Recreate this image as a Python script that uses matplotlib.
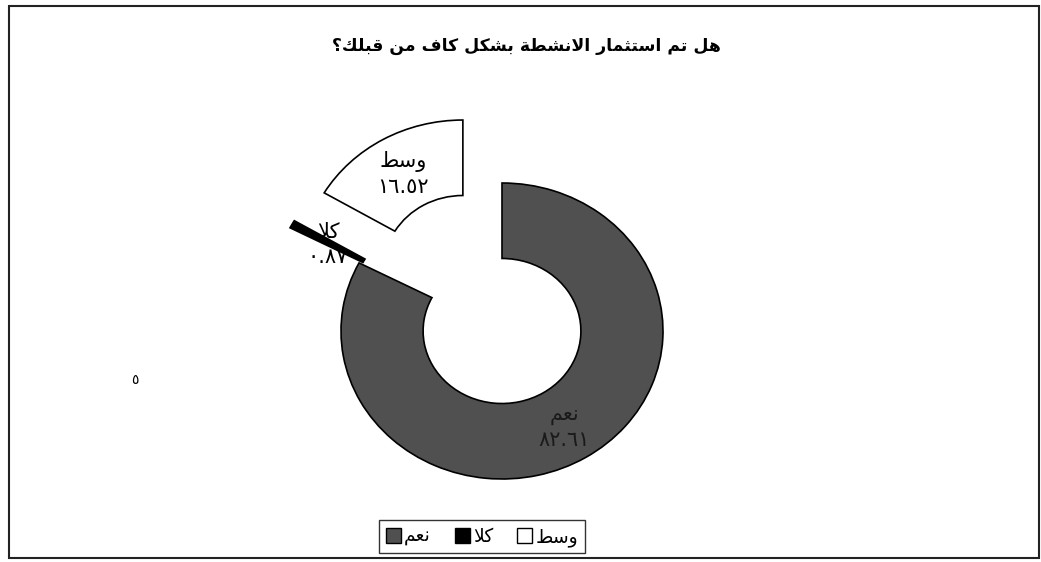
import matplotlib
matplotlib.use("Agg")
import matplotlib.pyplot as plt
from matplotlib.patches import Patch, Rectangle
import numpy as np

# Datos del gráfico
categorias = ["نعم", "كلا", "وسط"]
valores = [82.61, 0.87, 16.52]
colores = ["#505050", "#000000", "#ffffff"]
separacion = [0.0, 0.49, 0.49]
titulo = "هل تم استثمار الانشطة بشكل كاف من قبلك؟"

# Formas de presentación árabes: (aislada, final, inicial, media)
FORMAS = {
    "ا": ("\uFE8D", "\uFE8E", None, None),
    "ب": ("\uFE8F", "\uFE90", "\uFE91", "\uFE92"),
    "ة": ("\uFE93", "\uFE94", None, None),
    "ت": ("\uFE95", "\uFE96", "\uFE97", "\uFE98"),
    "ث": ("\uFE99", "\uFE9A", "\uFE9B", "\uFE9C"),
    "ر": ("\uFEAD", "\uFEAE", None, None),
    "س": ("\uFEB1", "\uFEB2", "\uFEB3", "\uFEB4"),
    "ش": ("\uFEB5", "\uFEB6", "\uFEB7", "\uFEB8"),
    "ط": ("\uFEC1", "\uFEC2", "\uFEC3", "\uFEC4"),
    "ع": ("\uFEC9", "\uFECA", "\uFECB", "\uFECC"),
    "ف": ("\uFED1", "\uFED2", "\uFED3", "\uFED4"),
    "ق": ("\uFED5", "\uFED6", "\uFED7", "\uFED8"),
    "ك": ("\uFED9", "\uFEDA", "\uFEDB", "\uFEDC"),
    "ل": ("\uFEDD", "\uFEDE", "\uFEDF", "\uFEE0"),
    "م": ("\uFEE1", "\uFEE2", "\uFEE3", "\uFEE4"),
    "ن": ("\uFEE5", "\uFEE6", "\uFEE7", "\uFEE8"),
    "ه": ("\uFEE9", "\uFEEA", "\uFEEB", "\uFEEC"),
    "و": ("\uFEED", "\uFEEE", None, None),
}


def une_adelante(c):
    return c in FORMAS and FORMAS[c][2] is not None


def arabe(texto):
    # Une las letras y devuelve el texto en orden visual (derecha a izquierda)
    fichas = []
    i = 0
    while i < len(texto):
        if texto[i] == "ل" and i + 1 < len(texto) and texto[i + 1] == "ا":
            fichas.append("LA")
            i += 2
        else:
            fichas.append(texto[i])
            i += 1
    salida = []
    for k, t in enumerate(fichas):
        prev = fichas[k - 1] if k > 0 else None
        sig = fichas[k + 1] if k + 1 < len(fichas) else None
        p = prev is not None and une_adelante(prev)
        if t == "LA":
            salida.append("\uFEFC" if p else "\uFEFB")
            continue
        if t not in FORMAS:
            salida.append(t)
            continue
        iso, fin, ini, med = FORMAS[t]
        n = ini is not None and sig is not None and (sig == "LA" or sig in FORMAS)
        if p and n:
            salida.append(med)
        elif p:
            salida.append(fin)
        elif n:
            salida.append(ini)
        else:
            salida.append(iso)
    return "".join(reversed(salida))


def cifras(v):
    # Números con dígitos arábigo-índicos
    s = f"{v:.2f}"
    return "".join(chr(0x0660 + int(c)) if c.isdigit() else c for c in s)


plt.rcParams["font.family"] = ["DejaVu Sans"]

fig = plt.figure(figsize=(10.41, 5.62), dpi=100)

# Marco exterior del gráfico
fig.patches.append(Rectangle((9 / 1041, 4 / 562), 1030 / 1041, 552 / 562,
                             transform=fig.transFigure, fill=False,
                             edgecolor="#222222", linewidth=1.5))

# Título
fig.text(0.506, 0.918, arabe(titulo), ha="center", va="center",
         fontsize=12.4, fontweight="bold")

# Ejes para el anillo (ligeramente elíptico como en la imagen)
ax = fig.add_axes([260.5 / 1041, 9 / 562, 483 / 1041, 444 / 562])
cunas, _ = ax.pie(valores, colors=colores, explode=separacion,
                  startangle=90, counterclock=False, radius=1.0,
                  wedgeprops=dict(width=0.51, edgecolor="black", linewidth=1.2))
ax.set_aspect("auto")
ax.set_xlim(-1.5, 1.5)
ax.set_ylim(-1.5, 1.5)
ax.axis("off")

# Etiquetas de cada sector
colores_texto = ["#1a1a1a", "black", "black"]
for cuna, cat, v, ct in zip(cunas, categorias, valores, colores_texto):
    ang = np.deg2rad((cuna.theta1 + cuna.theta2) / 2)
    r = cuna.r - cuna.width / 2
    x = cuna.center[0] + r * np.cos(ang)
    y = cuna.center[1] + r * np.sin(ang)
    ax.text(x, y + 0.07, arabe(cat), ha="center", va="center",
            fontsize=15, color=ct)
    ax.text(x, y - 0.10, cifras(v), ha="center", va="center",
            fontsize=15, color=ct)

# Leyenda (de izquierda a derecha: نعم، كلا، وسط)
manijas = [Patch(facecolor=c, edgecolor="black", label=arabe(cat))
           for c, cat in zip(colores, categorias)]
fig.legend(handles=manijas, loc="center", bbox_to_anchor=(0.463, 0.045),
           ncol=3, frameon=True, fancybox=False, edgecolor="black",
           fontsize=13.5, handlelength=0.8, handleheight=0.8, handletextpad=0.15,
           columnspacing=1.3, borderpad=0.35)

# Marca suelta en la imagen original
fig.text(135 / 1041, 1 - 380 / 562, "٥", ha="center", va="center", fontsize=10)

fig.savefig("out.png", dpi=100)
